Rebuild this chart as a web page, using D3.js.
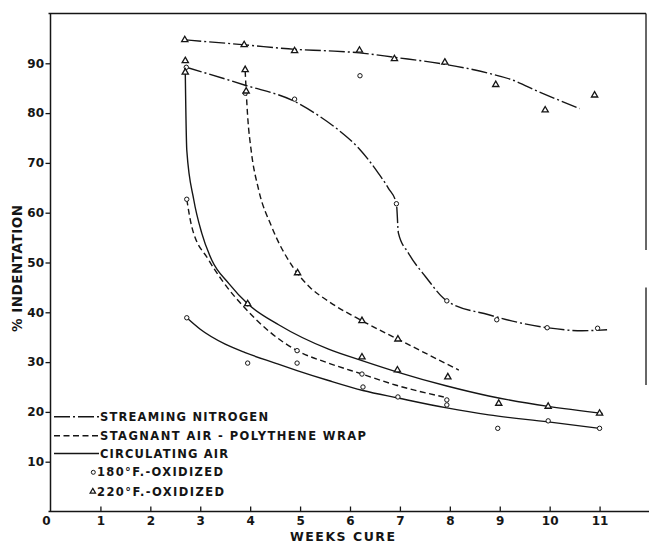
<!DOCTYPE html>
<html>
<head>
<meta charset="utf-8">
<script src="https://cdn.jsdelivr.net/npm/d3@7/dist/d3.min.js"></script>
<style>
  html, body { margin: 0; padding: 0; background: #fff; }
  svg { display: block; }
  text { font-family: 'DejaVu Sans', sans-serif; font-weight: bold; fill: #151515; }
</style>
</head>
<body>
<svg id="chart"></svg>
<script>
// Axis ticks
const WEEK_TICKS = [1, 2, 3, 4, 5, 6, 7, 8, 9, 10, 11];
const PCT_TICKS = [10, 20, 30, 40, 50, 60, 70, 80, 90];

// Measured points [weeks, % indentation]
const nitrogen220 = [[2.69, 94.7], [3.88, 93.7], [4.89, 92.5], [6.19, 92.6], [6.89, 90.9], [7.9, 90.2], [8.92, 85.7], [9.91, 80.6], [10.9, 83.6]];
const nitrogen180 = [[2.72, 89.2], [3.9, 84.0], [4.89, 82.8], [6.2, 87.5], [6.93, 61.8], [7.94, 42.3], [8.94, 38.5], [9.95, 36.9], [10.96, 36.8]];
const stagnant220 = [[3.9, 88.7], [3.92, 84.4], [4.95, 47.9], [6.24, 38.3], [6.96, 34.6], [7.96, 27.0]];
const stagnant180 = [[2.73, 62.7], [3.95, 41.7], [4.94, 32.3], [6.24, 27.6], [7.94, 22.4], [7.94, 21.4]];
const circulating220 = [[2.7, 90.5], [2.7, 88.2], [3.95, 41.7], [6.24, 31.0], [6.95, 28.4], [8.98, 21.7], [9.97, 21.1], [11.0, 19.7]];
const circulating180 = [[2.73, 38.9], [3.95, 29.8], [4.94, 29.8], [6.26, 25.0], [6.96, 23.0], [8.96, 16.7], [9.97, 18.2], [11.0, 16.7]];

// Hand-drawn fit curves
const nitrogen220Fit = [[2.7, 94.7], [3.9, 93.7], [4.9, 92.8], [5.57, 92.5], [6.19, 92.1], [6.89, 91.2], [7.9, 89.8], [8.78, 88.0], [9.24, 86.7], [9.78, 84.3], [10.6, 80.9]];
const nitrogen180Fit = [[2.72, 89.2], [3.9, 85.6], [4.9, 82.3], [5.37, 79.5], [5.77, 76.6], [6.17, 73.0], [6.57, 67.9], [6.77, 64.9], [6.93, 61.8], [6.97, 55.9], [7.17, 51.9], [7.51, 47.2], [7.94, 42.3], [8.78, 39.5], [9.95, 36.9], [10.65, 36.3], [11.15, 36.5]];
const stagnant220Fit = [[3.9, 88.5], [3.95, 79.3], [4.02, 72.5], [4.17, 64.6], [4.43, 57.2], [4.87, 48.9], [5.2, 45.0], [5.57, 42.2], [6.24, 38.3], [6.96, 34.6], [8.18, 28.4]];
const stagnant180Fit = [[2.73, 62.7], [2.83, 57.2], [3.17, 50.5], [3.43, 46.5], [3.9, 40.8], [4.4, 36.0], [4.94, 32.3], [5.57, 29.8], [6.24, 27.6], [6.91, 25.4], [7.88, 23.0]];
const circulating220Fit = [[2.7, 88.2], [2.73, 72.6], [2.87, 62.6], [3.03, 55.9], [3.23, 50.5], [3.57, 45.8], [3.95, 41.7], [4.57, 37.5], [5.57, 32.6], [6.24, 30.3], [6.95, 28.0], [7.94, 25.2], [8.78, 23.2], [9.97, 21.1], [11.06, 19.7]];
const circulating180Fit = [[2.73, 38.9], [3.0, 36.6], [3.5, 33.6], [3.9, 31.9], [4.5, 29.8], [4.94, 28.3], [5.57, 26.3], [6.26, 24.3], [6.96, 22.8], [7.94, 20.8], [8.78, 19.4], [9.97, 18.0], [11.0, 16.7]];

// Legend
const LEGEND_LINES = [
    { label: 'STREAMING NITROGEN', style: 'nitrogen', len: 168 },
    { label: 'STAGNANT AIR - POLYTHENE WRAP', style: 'stagnant', len: 266 },
    { label: 'CIRCULATING AIR', style: 'circulating', len: 128 }
];
const LEGEND_MARKERS = [
    { label: '180°F.-OXIDIZED', marker: 'circle', len: 126 },
    { label: '220°F.-OXIDIZED', marker: 'triangle', len: 127 }
];

const INK = '#151515';
const DASHES = { nitrogen: '16,3,2,3', stagnant: '6,3.5', circulating: null };

const width = 649, height = 542;
const svg = d3.select('#chart').attr('width', width).attr('height', height);

const x = d3.scaleLinear().domain([0, 12]).range([50.5, 649.5]);
const y = d3.scaleLinear().domain([0, 100]).range([511.5, 13.5]);

// Frame: top border and broken right border (as in the scan)
svg.append('line')
    .attr('x1', x(0) - 2).attr('x2', x(11.93))
    .attr('y1', y(100)).attr('y2', y(100))
    .attr('stroke', INK).attr('stroke-width', 1.5);
[[100, 52.5], [45, 25.4]].forEach(([a, b]) => {
    svg.append('line')
        .attr('x1', x(11.93)).attr('x2', x(11.93))
        .attr('y1', y(a)).attr('y2', y(b))
        .attr('stroke', INK).attr('stroke-width', 1.3);
});

// Y axis (ticks outward)
const yAxis = svg.append('g')
    .attr('transform', `translate(${x(0)},0)`)
    .call(d3.axisLeft(y).tickValues(PCT_TICKS).tickSize(5).tickPadding(1.5));
yAxis.select('.domain').remove();
yAxis.append('line')
    .attr('y1', y(100)).attr('y2', y(0))
    .attr('stroke', INK).attr('stroke-width', 1.5);

// X axis (ticks inward)
const xAxis = svg.append('g')
    .attr('transform', `translate(0,${y(0)})`)
    .call(d3.axisBottom(x).tickValues(WEEK_TICKS).tickSize(-5).tickPadding(4.5));
xAxis.select('.domain').remove();
xAxis.append('line')
    .attr('x1', x(0) - 2).attr('x2', width)
    .attr('stroke', INK).attr('stroke-width', 1.5);
xAxis.append('text')
    .attr('x', x(0) - 4).attr('y', 4.5).attr('dy', '0.71em')
    .attr('text-anchor', 'middle')
    .text('0');

[yAxis, xAxis].forEach(a => {
    a.attr('font-family', null).attr('font-size', null);
    a.selectAll('.tick line').attr('stroke', INK).attr('stroke-width', 1.3);
    a.selectAll('text').attr('fill', INK).style('font-size', '12px');
});

// Axis titles
svg.append('text')
    .attr('x', 342.5).attr('y', 540.5)
    .attr('text-anchor', 'middle')
    .attr('textLength', 105).attr('lengthAdjust', 'spacing')
    .style('font-size', '12.5px')
    .text('WEEKS CURE');

svg.append('text')
    .attr('transform', 'translate(21.5,268.5) rotate(-90)')
    .attr('text-anchor', 'middle')
    .attr('textLength', 127).attr('lengthAdjust', 'spacing')
    .style('font-size', '13.5px')
    .text('% INDENTATION');

// Fit curves
const line = d3.line()
    .x(d => x(d[0]))
    .y(d => y(d[1]))
    .curve(d3.curveMonotoneX);

const curves = [
    [nitrogen220Fit, 'nitrogen'], [nitrogen180Fit, 'nitrogen'],
    [stagnant220Fit, 'stagnant'], [stagnant180Fit, 'stagnant'],
    [circulating220Fit, 'circulating'], [circulating180Fit, 'circulating']
];
svg.append('g').selectAll('path')
    .data(curves)
    .join('path')
    .attr('d', d => line(d[0]))
    .attr('fill', 'none')
    .attr('stroke', INK)
    .attr('stroke-width', 1.4)
    .attr('stroke-dasharray', d => DASHES[d[1]]);

// Markers
const triangle = d3.symbol(d3.symbolTriangle, 17);

function drawCircles(data) {
    svg.append('g').selectAll('circle')
        .data(data)
        .join('circle')
        .attr('cx', d => x(d[0]))
        .attr('cy', d => y(d[1]))
        .attr('r', 2.2)
        .attr('fill', '#fff')
        .attr('stroke', INK)
        .attr('stroke-width', 1);
}
function drawTriangles(data) {
    svg.append('g').selectAll('path')
        .data(data)
        .join('path')
        .attr('transform', d => `translate(${x(d[0])},${y(d[1])})`)
        .attr('d', triangle)
        .attr('fill', '#fff')
        .attr('stroke', INK)
        .attr('stroke-width', 1.3);
}
drawCircles(nitrogen180);
drawCircles(stagnant180);
drawCircles(circulating180);
drawTriangles(nitrogen220);
drawTriangles(stagnant220);
drawTriangles(circulating220);

// Legend
const legendRowY = [416.7, 435.7, 453.5, 472.3, 491.5];
const legend = svg.append('g').attr('class', 'legend');

legend.selectAll('.legend-line')
    .data(LEGEND_LINES)
    .join('g')
    .attr('class', 'legend-line')
    .attr('transform', (d, i) => `translate(0,${legendRowY[i]})`)
    .each(function (d) {
        const g = d3.select(this);
        g.append('line')
            .attr('x1', 54).attr('x2', 99)
            .attr('stroke', INK).attr('stroke-width', 1.4)
            .attr('stroke-dasharray', DASHES[d.style]);
        g.append('text')
            .attr('x', 100).attr('y', 4.1)
            .attr('textLength', d.len).attr('lengthAdjust', 'spacing')
            .style('font-size', '11.5px')
            .text(d.label);
    });

legend.selectAll('.legend-marker')
    .data(LEGEND_MARKERS)
    .join('g')
    .attr('class', 'legend-marker')
    .attr('transform', (d, i) => `translate(0,${legendRowY[i + 3]})`)
    .each(function (d) {
        const g = d3.select(this);
        if (d.marker === 'circle') {
            g.append('circle').attr('cx', 93.3).attr('r', 2)
                .attr('fill', '#fff').attr('stroke', INK).attr('stroke-width', 1);
        } else {
            g.append('path').attr('transform', 'translate(92.8,0)')
                .attr('d', d3.symbol(d3.symbolTriangle, 13)())
                .attr('fill', '#fff').attr('stroke', INK).attr('stroke-width', 1.2);
        }
        g.append('text')
            .attr('x', 97).attr('y', 4.1)
            .attr('textLength', d.len).attr('lengthAdjust', 'spacing')
            .style('font-size', '11.5px')
            .text(d.label);
    });
</script>
</body>
</html>
